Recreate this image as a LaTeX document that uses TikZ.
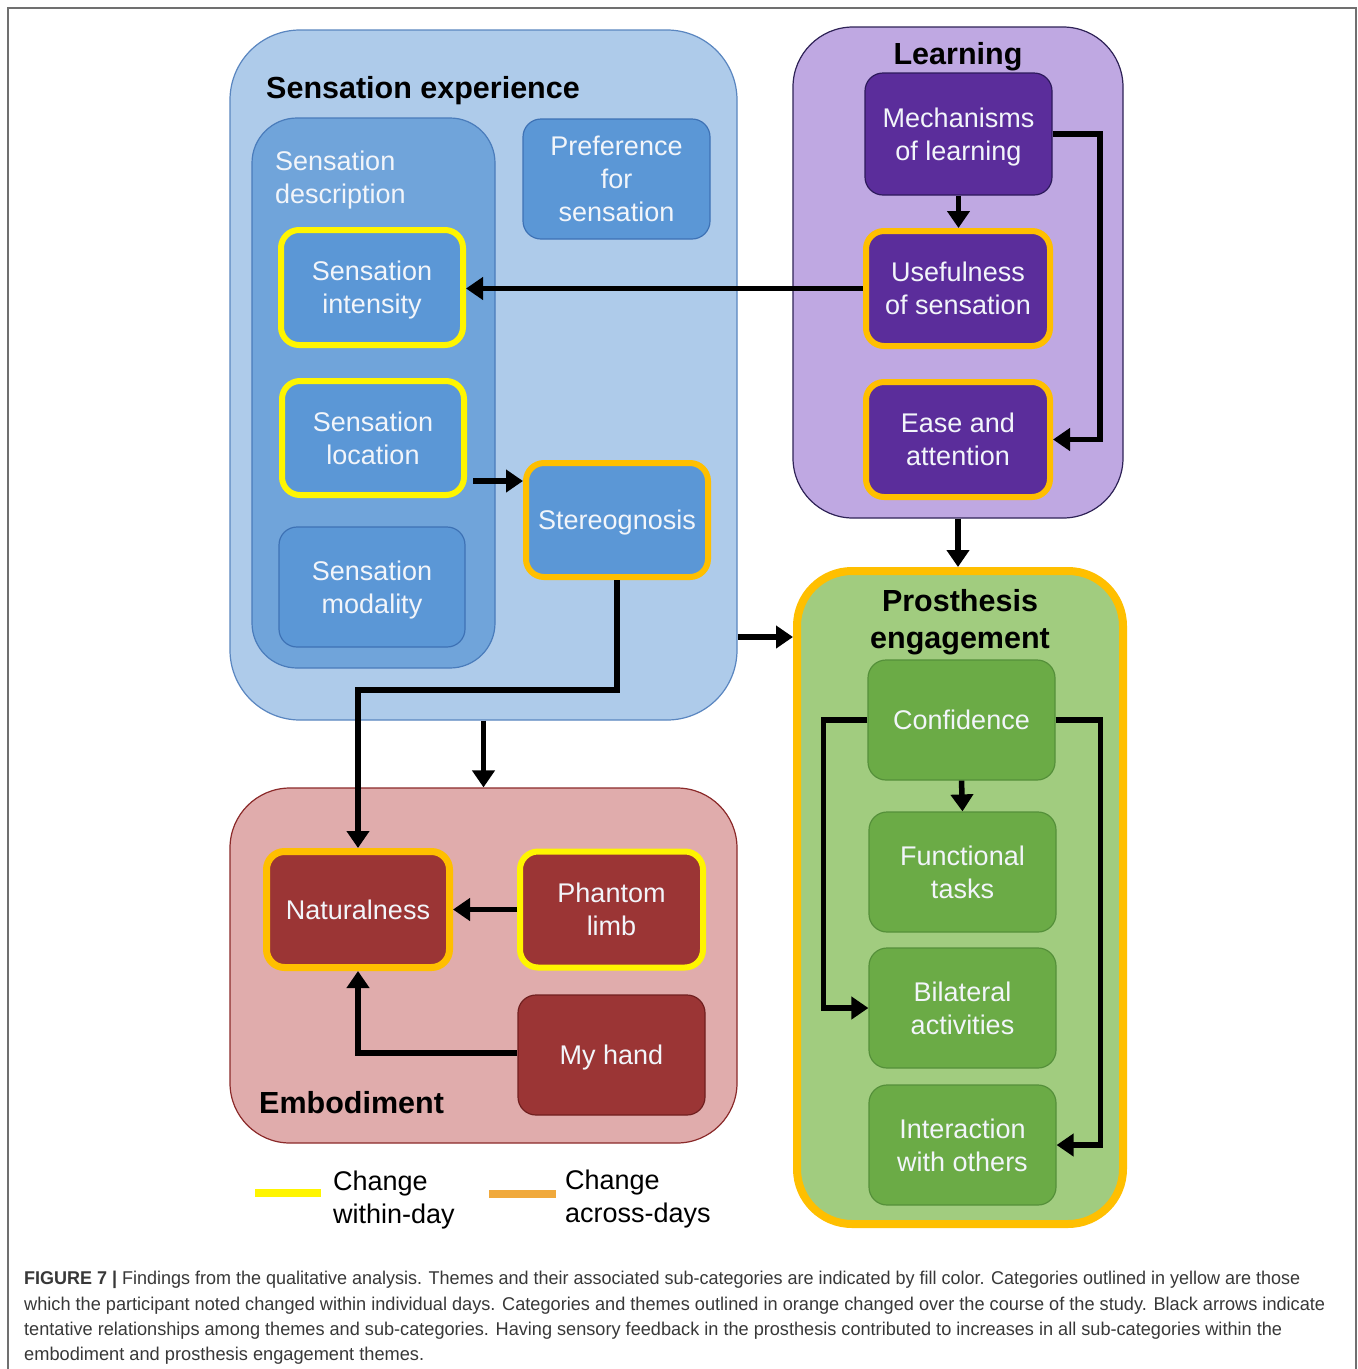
\documentclass[tikz,border=0pt]{standalone}
\usepackage{fontspec}
\setmainfont{Liberation Sans}
\usepackage{graphicx}
\usetikzlibrary{arrows.meta}
\definecolor{seFill}{HTML}{AECBEA}
\definecolor{seDraw}{HTML}{5A86C0}
\definecolor{sdFill}{HTML}{70A4DA}
\definecolor{sdDraw}{HTML}{4A7CBB}
\definecolor{bbFill}{HTML}{5B97D6}
\definecolor{bbDraw}{HTML}{3E72B5}
\definecolor{boxTxt}{HTML}{F2F5FA}
\definecolor{lFill}{HTML}{BFA8E2}
\definecolor{lDraw}{HTML}{2F2357}
\definecolor{pFill}{HTML}{5B2D9B}
\definecolor{pDraw}{HTML}{2D1A5C}
\definecolor{peFill}{HTML}{A1CC7F}
\definecolor{gFill}{HTML}{6BAB46}
\definecolor{gDraw}{HTML}{55903A}
\definecolor{eFill}{HTML}{E0ACAC}
\definecolor{eDraw}{HTML}{8B2A2A}
\definecolor{rFill}{HTML}{9B3535}
\definecolor{rDraw}{HTML}{701F1F}
\definecolor{yelC}{HTML}{FFF500}
\definecolor{orgC}{HTML}{FFBF00}
\definecolor{legOrg}{HTML}{F0A93C}
\definecolor{frameC}{HTML}{707070}
\definecolor{capC}{HTML}{383838}
\begin{document}
\begin{tikzpicture}[x=1pt,y=-1pt,
  every node/.style={text depth=0pt},
  box/.style={rounded corners=18pt, align=center, text=boxTxt, inner sep=0pt,
    font=\fontsize{27}{33}\selectfont},
  thinb/.style={line width=1.2pt},
  yelb/.style={draw=yelC, line width=6pt},
  orgb/.style={draw=orgC, line width=6pt},
  bluebox/.style={box, fill=bbFill, draw=bbDraw},
  purplebox/.style={box, fill=pFill, draw=pDraw},
  greenbox/.style={box, fill=gFill, draw=gDraw, thinb, minimum width=187pt, minimum height=120pt},
  redbox/.style={box, fill=rFill, draw=rDraw},
  theme/.style={inner sep=0pt},
  ttl/.style={inner sep=0pt, font=\bfseries\fontsize{30.5}{37}\selectfont, text=black},
  leg/.style={inner sep=0pt, align=left, anchor=west, font=\fontsize{27}{33}\selectfont},
  captxt/.style={inner sep=0pt, anchor=west, text=capC, font=\fontsize{18.5}{22}\selectfont},
  arr/.style={line width=5.5pt, -{Triangle[length=17pt,width=22pt]}}
]
\useasboundingbox (0,0) rectangle (1358,1369);
\fill[white] (0,0) rectangle (1358,1369);
\draw[frameC, line width=1.2pt] (8,1400) -- (8,8) -- (1356,8) -- (1356,1400);

% ---- Sensation experience
\node[theme, fill=seFill, draw=seDraw, thinb, rounded corners=70pt, minimum width=507pt, minimum height=690pt] (se) at (483.5,375) {};
\node[ttl, anchor=west] (tse) at (266,87) {Sensation experience};
\node[theme, fill=sdFill, draw=sdDraw, thinb, rounded corners=45pt, minimum width=243pt, minimum height=550pt] (sd) at (373.5,393) {};
\node[box, anchor=west, align=left] (tsd) at (275,177) {Sensation\\description};
\node[bluebox, thinb, minimum width=187pt, minimum height=120pt] (pref) at (616.5,179) {Preference\\for\\sensation};
\node[bluebox, yelb, minimum width=182pt, minimum height=115pt] (sint) at (372,287.5) {Sensation\\intensity};
\node[bluebox, yelb, minimum width=182pt, minimum height=114pt] (sloc) at (373,438) {Sensation\\location};
\node[bluebox, thinb, minimum width=186pt, minimum height=120pt] (smod) at (372,587) {Sensation\\modality};
\node[bluebox, orgb, minimum width=182pt, minimum height=114pt] (stereo) at (617,520) {Stereognosis};

% ---- Learning
\node[theme, fill=lFill, draw=lDraw, thinb, rounded corners=60pt, minimum width=330pt, minimum height=491pt] (learn) at (958,272.5) {};
\node[ttl] (tlearn) at (958,53) {Learning};
\node[purplebox, thinb, minimum width=187pt, minimum height=122pt] (mech) at (958.5,134) {Mechanisms\\of learning};
\node[purplebox, orgb, minimum width=184pt, minimum height=115pt] (usef) at (958,288.5) {Usefulness\\of sensation};
\node[purplebox, orgb, minimum width=184pt, minimum height=115pt] (ease) at (958,439.5) {Ease and\\attention};

% ---- Prosthesis engagement
\node[theme, fill=peFill, draw=orgC, line width=8pt, rounded corners=55pt, minimum width=326pt, minimum height=653pt] (pe) at (960,897.5) {};
\node[ttl, align=center] (tpe) at (960,619) {Prosthesis\\engagement};
\node[greenbox] (conf) at (961.5,720) {Confidence};
\node[greenbox] (func) at (962.5,872) {Functional\\tasks};
\node[greenbox] (bil) at (962.5,1008) {Bilateral\\activities};
\node[greenbox] (inter) at (962.5,1145) {Interaction\\with others};

% ---- Embodiment
\node[theme, fill=eFill, draw=eDraw, thinb, rounded corners=60pt, minimum width=507pt, minimum height=355pt] (emb) at (483.5,965.5) {};
\node[ttl, anchor=west] (temb) at (259,1102) {Embodiment};
\node[redbox, orgb, line width=7pt, minimum width=183pt, minimum height=116pt] (nat) at (358,909.5) {Naturalness};
\node[redbox, yelb, minimum width=183pt, minimum height=116pt] (phan) at (611.5,909.5) {Phantom\\limb};
\node[redbox, thinb, minimum width=187pt, minimum height=120pt] (hand) at (611.5,1055) {My hand};

% ---- Arrows
\draw[arr] (usef.west) -- (usef.west -| sint.east);
\draw[arr] (mech.south) -- (usef.north -| mech.south);
\coordinate (kr) at (1100,0);
\draw[arr] (mech.east) -- (mech.east -| kr) |- (ease.east);
\coordinate (p4) at (473,481);
\draw[arr] (p4) -- (p4 -| stereo.west);
\coordinate (k5) at (358,690);
\draw[arr] (stereo.south) |- (k5) -- (nat.north);
\draw[arr] (se.south) -- (emb.north);
\coordinate (k7) at (737,637);
\draw[arr] (se.east |- k7) -- (pe.west |- k7);
\draw[arr] (learn.south) -- (pe.north -| learn.south);
\draw[arr] (phan.west) -- (nat.east);
\coordinate (k10) at (0,1053);
\draw[arr] (hand.west |- k10) -| (nat.south);
\draw[arr] (conf.west) -- ++(-44,0) |- (bil.west);
\draw[arr] (conf.east) -- ++(45,0) |- (inter.east);
\draw[arr] (conf.south) -- (func.north);

% ---- Legend
\draw[yelC, line width=8pt] (255,1193) -- (321,1193);
\node[leg] (l1) at (333,1197) {Change\\within-day};
\draw[legOrg, line width=8pt] (489,1194) -- (556,1194);
\node[leg] (l2) at (565,1196) {Change\\across-days};

% ---- Caption
\node[captxt] (c1) at (24,1278) {\resizebox{1276pt}{\height}{\textbf{FIGURE 7 |} Findings from the qualitative analysis. Themes and their associated sub-categories are indicated by fill color. Categories outlined in yellow are those}};
\node[captxt] (c2) at (24,1304) {\resizebox{1301pt}{\height}{which the participant noted changed within individual days. Categories and themes outlined in orange changed over the course of the study. Black arrows indicate}};
\node[captxt] (c3) at (24,1329) {\resizebox{1258pt}{\height}{tentative relationships among themes and sub-categories. Having sensory feedback in the prosthesis contributed to increases in all sub-categories within the}};
\node[captxt] (c4) at (24,1354) {\resizebox{400pt}{\height}{embodiment and prosthesis engagement themes.}};
\end{tikzpicture}
\end{document}
